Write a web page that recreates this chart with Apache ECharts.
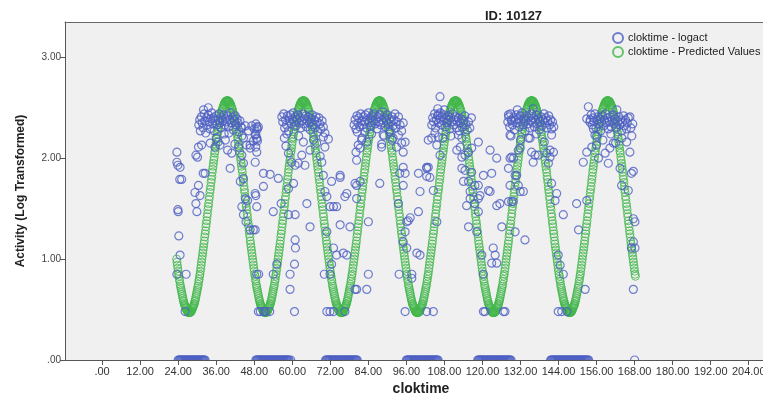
<!DOCTYPE html>
<html>
<head>
<meta charset="utf-8">
<title>ID: 10127</title>
<script src="https://cdn.jsdelivr.net/npm/echarts@6/dist/echarts.min.js"></script>
<style>
  html, body { margin: 0; padding: 0; background: #fff; }
  #chart { width: 763px; height: 401px; }
</style>
</head>
<body>
<div id="chart"></div>
<script>
// tick labels
var xTicks = [0, 12, 24, 36, 48, 60, 72, 84, 96, 108, 120, 132, 144, 156, 168, 180, 192, 204];
var yTicks = [0, 1, 2, 3];

// predicted values (cosinor fit), one every 7.5 min starting at 23.5 h
var predStart = 23.5;
var predStep = 0.125;
var predValues = [
  1.00,0.97,0.94,0.91,0.88,0.85,0.83,0.80,
  0.78,0.75,0.73,0.71,0.69,0.67,0.65,0.63,0.61,0.59,0.58,0.56,0.55,0.54,0.53,0.52,0.51,0.50,0.49,0.48,0.48,0.48,0.47,0.47,
  // day 1
  0.47,0.47,0.47,0.48,0.48,0.48,0.49,0.50,0.51,0.52,0.53,0.54,0.55,0.56,0.58,0.59,0.61,0.63,0.65,0.67,0.69,0.71,0.73,0.75,
  0.78,0.80,0.83,0.85,0.88,0.91,0.94,0.97,1.00,1.03,1.06,1.09,1.12,1.15,1.18,1.22,1.25,1.28,1.32,1.35,1.38,1.42,1.45,1.49,
  1.52,1.55,1.59,1.62,1.66,1.69,1.72,1.76,1.79,1.82,1.86,1.89,1.92,1.95,1.98,2.01,2.05,2.07,2.10,2.13,2.16,2.19,2.21,2.24,
  2.26,2.29,2.31,2.33,2.35,2.37,2.39,2.41,2.43,2.45,2.46,2.48,2.49,2.50,2.51,2.53,2.53,2.54,2.55,2.56,2.56,2.56,2.57,2.57,
  2.57,2.57,2.57,2.56,2.56,2.56,2.55,2.54,2.53,2.53,2.51,2.50,2.49,2.48,2.46,2.45,2.43,2.41,2.39,2.37,2.35,2.33,2.31,2.29,
  2.26,2.24,2.21,2.19,2.16,2.13,2.10,2.07,2.05,2.01,1.98,1.95,1.92,1.89,1.86,1.82,1.79,1.76,1.72,1.69,1.66,1.62,1.59,1.55,
  1.52,1.49,1.45,1.42,1.38,1.35,1.32,1.28,1.25,1.22,1.18,1.15,1.12,1.09,1.06,1.03,1.00,0.97,0.94,0.91,0.88,0.85,0.83,0.80,
  0.78,0.75,0.73,0.71,0.69,0.67,0.65,0.63,0.61,0.59,0.58,0.56,0.55,0.54,0.53,0.52,0.51,0.50,0.49,0.48,0.48,0.48,0.47,0.47,
  // day 2
  0.47,0.47,0.47,0.48,0.48,0.48,0.49,0.50,0.51,0.52,0.53,0.54,0.55,0.56,0.58,0.59,0.61,0.63,0.65,0.67,0.69,0.71,0.73,0.75,
  0.78,0.80,0.83,0.85,0.88,0.91,0.94,0.97,1.00,1.03,1.06,1.09,1.12,1.15,1.18,1.22,1.25,1.28,1.32,1.35,1.38,1.42,1.45,1.49,
  1.52,1.55,1.59,1.62,1.66,1.69,1.72,1.76,1.79,1.82,1.86,1.89,1.92,1.95,1.98,2.01,2.05,2.07,2.10,2.13,2.16,2.19,2.21,2.24,
  2.26,2.29,2.31,2.33,2.35,2.37,2.39,2.41,2.43,2.45,2.46,2.48,2.49,2.50,2.51,2.53,2.53,2.54,2.55,2.56,2.56,2.56,2.57,2.57,
  2.57,2.57,2.57,2.56,2.56,2.56,2.55,2.54,2.53,2.53,2.51,2.50,2.49,2.48,2.46,2.45,2.43,2.41,2.39,2.37,2.35,2.33,2.31,2.29,
  2.26,2.24,2.21,2.19,2.16,2.13,2.10,2.07,2.05,2.01,1.98,1.95,1.92,1.89,1.86,1.82,1.79,1.76,1.72,1.69,1.66,1.62,1.59,1.55,
  1.52,1.49,1.45,1.42,1.38,1.35,1.32,1.28,1.25,1.22,1.18,1.15,1.12,1.09,1.06,1.03,1.00,0.97,0.94,0.91,0.88,0.85,0.83,0.80,
  0.78,0.75,0.73,0.71,0.69,0.67,0.65,0.63,0.61,0.59,0.58,0.56,0.55,0.54,0.53,0.52,0.51,0.50,0.49,0.48,0.48,0.48,0.47,0.47,
  // day 3
  0.47,0.47,0.47,0.48,0.48,0.48,0.49,0.50,0.51,0.52,0.53,0.54,0.55,0.56,0.58,0.59,0.61,0.63,0.65,0.67,0.69,0.71,0.73,0.75,
  0.78,0.80,0.83,0.85,0.88,0.91,0.94,0.97,1.00,1.03,1.06,1.09,1.12,1.15,1.18,1.22,1.25,1.28,1.32,1.35,1.38,1.42,1.45,1.49,
  1.52,1.55,1.59,1.62,1.66,1.69,1.72,1.76,1.79,1.82,1.86,1.89,1.92,1.95,1.98,2.01,2.05,2.07,2.10,2.13,2.16,2.19,2.21,2.24,
  2.26,2.29,2.31,2.33,2.35,2.37,2.39,2.41,2.43,2.45,2.46,2.48,2.49,2.50,2.51,2.53,2.53,2.54,2.55,2.56,2.56,2.56,2.57,2.57,
  2.57,2.57,2.57,2.56,2.56,2.56,2.55,2.54,2.53,2.53,2.51,2.50,2.49,2.48,2.46,2.45,2.43,2.41,2.39,2.37,2.35,2.33,2.31,2.29,
  2.26,2.24,2.21,2.19,2.16,2.13,2.10,2.07,2.05,2.01,1.98,1.95,1.92,1.89,1.86,1.82,1.79,1.76,1.72,1.69,1.66,1.62,1.59,1.55,
  1.52,1.49,1.45,1.42,1.38,1.35,1.32,1.28,1.25,1.22,1.18,1.15,1.12,1.09,1.06,1.03,1.00,0.97,0.94,0.91,0.88,0.85,0.83,0.80,
  0.78,0.75,0.73,0.71,0.69,0.67,0.65,0.63,0.61,0.59,0.58,0.56,0.55,0.54,0.53,0.52,0.51,0.50,0.49,0.48,0.48,0.48,0.47,0.47,
  // day 4
  0.47,0.47,0.47,0.48,0.48,0.48,0.49,0.50,0.51,0.52,0.53,0.54,0.55,0.56,0.58,0.59,0.61,0.63,0.65,0.67,0.69,0.71,0.73,0.75,
  0.78,0.80,0.83,0.85,0.88,0.91,0.94,0.97,1.00,1.03,1.06,1.09,1.12,1.15,1.18,1.22,1.25,1.28,1.32,1.35,1.38,1.42,1.45,1.49,
  1.52,1.55,1.59,1.62,1.66,1.69,1.72,1.76,1.79,1.82,1.86,1.89,1.92,1.95,1.98,2.01,2.05,2.07,2.10,2.13,2.16,2.19,2.21,2.24,
  2.26,2.29,2.31,2.33,2.35,2.37,2.39,2.41,2.43,2.45,2.46,2.48,2.49,2.50,2.51,2.53,2.53,2.54,2.55,2.56,2.56,2.56,2.57,2.57,
  2.57,2.57,2.57,2.56,2.56,2.56,2.55,2.54,2.53,2.53,2.51,2.50,2.49,2.48,2.46,2.45,2.43,2.41,2.39,2.37,2.35,2.33,2.31,2.29,
  2.26,2.24,2.21,2.19,2.16,2.13,2.10,2.07,2.05,2.01,1.98,1.95,1.92,1.89,1.86,1.82,1.79,1.76,1.72,1.69,1.66,1.62,1.59,1.55,
  1.52,1.49,1.45,1.42,1.38,1.35,1.32,1.28,1.25,1.22,1.18,1.15,1.12,1.09,1.06,1.03,1.00,0.97,0.94,0.91,0.88,0.85,0.83,0.80,
  0.78,0.75,0.73,0.71,0.69,0.67,0.65,0.63,0.61,0.59,0.58,0.56,0.55,0.54,0.53,0.52,0.51,0.50,0.49,0.48,0.48,0.48,0.47,0.47,
  // day 5
  0.47,0.47,0.47,0.48,0.48,0.48,0.49,0.50,0.51,0.52,0.53,0.54,0.55,0.56,0.58,0.59,0.61,0.63,0.65,0.67,0.69,0.71,0.73,0.75,
  0.78,0.80,0.83,0.85,0.88,0.91,0.94,0.97,1.00,1.03,1.06,1.09,1.12,1.15,1.18,1.22,1.25,1.28,1.32,1.35,1.38,1.42,1.45,1.49,
  1.52,1.55,1.59,1.62,1.66,1.69,1.72,1.76,1.79,1.82,1.86,1.89,1.92,1.95,1.98,2.01,2.05,2.07,2.10,2.13,2.16,2.19,2.21,2.24,
  2.26,2.29,2.31,2.33,2.35,2.37,2.39,2.41,2.43,2.45,2.46,2.48,2.49,2.50,2.51,2.53,2.53,2.54,2.55,2.56,2.56,2.56,2.57,2.57,
  2.57,2.57,2.57,2.56,2.56,2.56,2.55,2.54,2.53,2.53,2.51,2.50,2.49,2.48,2.46,2.45,2.43,2.41,2.39,2.37,2.35,2.33,2.31,2.29,
  2.26,2.24,2.21,2.19,2.16,2.13,2.10,2.07,2.05,2.01,1.98,1.95,1.92,1.89,1.86,1.82,1.79,1.76,1.72,1.69,1.66,1.62,1.59,1.55,
  1.52,1.49,1.45,1.42,1.38,1.35,1.32,1.28,1.25,1.22,1.18,1.15,1.12,1.09,1.06,1.03,1.00,0.97,0.94,0.91,0.88,0.85,0.83,0.80,
  0.78,0.75,0.73,0.71,0.69,0.67,0.65,0.63,0.61,0.59,0.58,0.56,0.55,0.54,0.53,0.52,0.51,0.50,0.49,0.48,0.48,0.48,0.47,0.47,
  // day 6
  0.47,0.47,0.47,0.48,0.48,0.48,0.49,0.50,0.51,0.52,0.53,0.54,0.55,0.56,0.58,0.59,0.61,0.63,0.65,0.67,0.69,0.71,0.73,0.75,
  0.78,0.80,0.83,0.85,0.88,0.91,0.94,0.97,1.00,1.03,1.06,1.09,1.12,1.15,1.18,1.22,1.25,1.28,1.32,1.35,1.38,1.42,1.45,1.49,
  1.52,1.55,1.59,1.62,1.66,1.69,1.72,1.76,1.79,1.82,1.86,1.89,1.92,1.95,1.98,2.01,2.05,2.07,2.10,2.13,2.16,2.19,2.21,2.24,
  2.26,2.29,2.31,2.33,2.35,2.37,2.39,2.41,2.43,2.45,2.46,2.48,2.49,2.50,2.51,2.53,2.53,2.54,2.55,2.56,2.56,2.56,2.57,2.57,
  2.57,2.57,2.57,2.56,2.56,2.56,2.55,2.54,2.53,2.53,2.51,2.50,2.49,2.48,2.46,2.45,2.43,2.41,2.39,2.37,2.35,2.33,2.31,2.29,
  2.26,2.24,2.21,2.19,2.16,2.13,2.10,2.07,2.05,2.01,1.98,1.95,1.92,1.89,1.86,1.82,1.79,1.76,1.72,1.69,1.66,1.62,1.59,1.55,
  1.52,1.49,1.45,1.42,1.38,1.35,1.32,1.28,1.25,1.22,1.18,1.15,1.12,1.09,1.06,1.03,1.00,0.97,0.94,0.91,0.88,0.85,0.83
];

// logact = 0 during the nights (hours)
var zeroNight1 = [24,24.25,24.5,24.75,25,25.25,25.5,25.75,26,26.25,26.5,26.75,27,27.25,27.5,27.75,28,28.25,28.5,28.75,29,29.25,29.5,29.75,
  30,30.25,30.5,30.75,31,31.25,31.5,31.75,32,32.25,32.5];
var zeroNight2 = [48.5,48.75,49,49.25,49.5,49.75,50,50.25,50.5,50.75,51,51.25,51.5,51.75,52,52.25,52.5,52.75,53,53.25,53.5,53.75,54,54.25,
  54.5,54.75,55,55.25,55.5,55.75,56,56.25,56.5,56.75,57,57.25,57.5,57.75,58,58.25,58.5,58.75,59,59.5];
var zeroNight3 = [70.5,70.75,71,71.25,71.5,71.75,72,72.25,72.5,72.75,73,73.25,73.5,73.75,74,74.25,74.5,74.75,75,75.25,75.5,75.75,76,76.25,
  76.5,76.75,77,77.25,77.5,77.75,78,78.25,78.5,78.75,79,79.25,79.5,79.75,80,80.25,80.5];
var zeroNight4 = [96,96.25,96.5,96.75,97,97.25,97.5,97.75,98,98.25,98.5,98.75,99,99.25,99.5,99.75,100,100.25,100.5,100.75,101,101.25,101.5,
  101.75,102,102.25,102.5,102.75,103,103.25,103.5,103.75,104,104.25,104.5,104.75,105,105.25,105.5,105.75,106];
var zeroNight5 = [118.5,118.75,119,119.25,119.5,119.75,120,120.25,120.5,120.75,121,121.25,121.5,121.75,122,122.25,122.5,122.75,123,123.25,
  123.5,123.75,124,124.25,124.5,124.75,125,125.25,125.5,125.75,126,126.25,126.5,126.75,127,127.25,127.5,127.75,128,128.25,128.5,128.75,129];
var zeroNight6 = [141.5,141.75,142,142.25,142.5,142.75,143,143.25,143.5,143.75,144,144.25,144.5,144.75,145,145.25,145.5,145.75,146,146.25,
  146.5,146.75,147,147.25,147.5,147.75,148,148.25,148.5,148.75,149,149.25,149.5,149.75,150,150.25,150.5,150.75,151,151.25,151.5,151.75,
  152,152.25,152.5,152.75,153,153.25,153.5,168];

// logact > 0, [hour, value]
var logactDay1 = [
  [23.6,2.06],[23.6,1.96],[23.9,1.93],[24.6,1.91],[24.5,1.79],[25.1,1.79],[23.9,1.49],[24.0,1.47],[24.2,1.23],[24.6,1.04],[23.6,0.85],[26.5,0.85],[26.2,0.48],
  [29.6,2.03],[30.1,2.01],[30.4,2.11],[31.4,2.13],[31.9,1.85],[32.5,1.85],[30.4,1.73],[29.3,1.66],[30.9,1.63],[29.6,1.55],[29.9,1.47],[33.5,2.50],
  [30.5,2.33],[30.8,2.38],[31.0,2.27],[31.3,2.41],[31.6,2.35],[31.9,2.30],[32.2,2.44],[32.4,2.37],[32.7,2.25],[33.0,2.40],[33.2,2.33],[33.5,2.43],
  [33.8,2.36],[34.0,2.29],[34.3,2.39],[34.6,2.45],[34.9,2.34],[35.1,2.40],[35.4,2.27],[35.7,2.37],[36.0,2.42],[36.3,2.33],[36.6,2.38],[36.9,2.44],
  [37.2,2.35],[37.5,2.30],[37.8,2.40],[38.1,2.37],[38.4,2.43],[38.7,2.33],[39.0,2.39],[39.3,2.36],[39.6,2.42],[39.9,2.31],[40.2,2.38],[40.5,2.45],
  [40.8,2.35],[41.1,2.40],[41.4,2.28],[41.7,2.37],[42.0,2.42],[42.3,2.33],[42.6,2.39],[42.9,2.35],[43.2,2.26],[43.5,2.37],[43.8,2.31],[44.1,2.22],
  [32.0,2.48],[36.0,2.20],[38.5,2.24],[40.0,2.25],[36.6,2.16],[38.9,2.18],[39.6,2.08],[41.9,2.14],
  [34.1,2.15],[35.6,2.11],[37.2,2.13],[40.4,1.90],[40.9,2.05],[43.0,2.11],[44.1,2.03],[44.6,1.95],[45.6,2.13],[46.7,2.10],[48.3,2.23],[48.8,2.06],[49.3,2.31],
  [44.1,2.30],[45.2,2.32],[46.2,2.27],[47.2,2.32],[48.0,2.29],[48.8,2.20],[47.7,2.17],[46.7,2.13],[44.6,2.20],
  [43.6,1.77],[44.6,1.80],[45.2,1.60],[45.9,1.58],[44.1,1.52],[44.6,1.44],[45.4,1.37],[46.7,1.29],[47.7,1.29],[48.8,0.85],[49.3,0.48],[48.3,1.65],
  [48.5,2.34],[48.8,2.31],[49.0,2.29],[48.5,2.24],[48.8,2.19],[49.0,2.17],[48.5,2.11],[48.3,1.96],[48.5,1.63],[48.8,1.52],[48.3,1.29]
];
var logactDay2 = [
  [50.9,1.85],[53.0,1.84],[50.9,1.72],[55.6,1.80],[54.0,1.47],[56.5,1.55],[49.4,0.85],[49.9,0.48],[51.0,0.48],[51.5,0.48],[52.9,0.48],[54.0,0.85],[55.1,0.95],
  [59.3,0.85],[59.3,0.70],[60.7,0.95],[60.9,1.19],[61.0,1.11],[60.7,0.48],[58.8,1.44],[60.9,1.44],[58.8,1.70],[60.4,1.75],[58.8,2.05],[59.8,1.96],[60.9,1.93],
  [64.6,1.55],[65.6,1.32],[61.9,1.95],[63.0,2.03],[64.0,1.93],[65.6,2.08],[66.7,2.18],[67.7,2.15],[68.8,2.02],[69.3,1.96],[69.8,2.21],[70.3,2.11],[71.4,2.19],
  [56.7,2.41],[57.0,2.36],[57.3,2.44],[57.6,2.30],[57.9,2.38],[58.2,2.33],[58.5,2.42],[58.8,2.27],[59.1,2.37],[59.4,2.43],[59.7,2.34],[60.0,2.39],
  [60.3,2.45],[60.6,2.36],[60.9,2.41],[61.2,2.32],[61.5,2.38],[61.8,2.43],[62.1,2.35],[62.4,2.40],[62.7,2.30],[63.0,2.37],[63.3,2.44],[63.6,2.34],
  [63.9,2.39],[64.2,2.42],[64.5,2.31],[64.8,2.37],[65.1,2.41],[65.4,2.35],[65.7,2.28],[66.0,2.39],[66.3,2.43],[66.6,2.33],[66.9,2.38],[67.2,2.30],
  [67.5,2.41],[67.8,2.36],[68.1,2.26],[68.4,2.40],[68.7,2.34],[69.0,2.29],[69.4,2.37],[69.8,2.31],[70.3,2.25],[57.5,2.20],[58.0,2.12],[58.3,2.24],[62.0,2.22],[63.5,2.16],
  [69.8,1.83],[70.3,1.67],[70.9,1.62],[71.9,1.52],[73.0,1.52],[74.0,1.52],[70.9,1.27],[73.0,1.11],[74.0,1.04],[72.4,0.95],[71.9,0.85],[70.1,0.85],
  [70.9,0.48],[71.9,0.48],[73.0,0.48],[72.4,1.77],[75.1,1.81],[76.6,1.62]
];
var logactDay3 = [
  [75.1,1.83],[75.1,1.34],[76.1,1.06],[77.2,1.04],[76.6,0.48],[77.2,1.65],[78.2,1.32],[80.3,1.73],[79.8,1.75],[80.3,1.60],[81.4,1.77],[79.8,0.70],[80.3,0.70],
  [83.5,0.70],[84.0,0.85],[84.0,1.37],[80.1,2.06],[80.3,1.98],[80.8,2.13],[81.4,2.10],[81.9,2.18],[82.9,2.26],[83.5,2.16],[87.6,1.75],[88.2,2.14],[88.2,2.11],
  [88.7,2.23],[90.8,2.26],[91.8,2.20],[92.9,2.11],[94.5,2.15],[95.6,2.16],[95.0,2.06],[93.5,1.55],[93.9,1.85],[95.0,1.91],[95.6,1.85],[95.0,1.73],[95.6,1.27],
  [95.0,1.17],[96.1,1.11],[96.6,1.38],[97.2,1.41],[96.1,1.37],[97.7,0.85],[97.7,0.81],[93.7,0.85],[95.6,0.48],[102.4,0.48],[99.8,1.85],[100.3,1.67],[99.8,1.47],
  [100.3,1.04],[102.4,1.91],[103.4,1.81],[102.9,1.91],[99.3,1.06],[102.9,2.18],
  [79.5,2.33],[79.8,2.38],[80.1,2.29],[80.4,2.42],[80.7,2.35],[81.0,2.40],[81.3,2.31],[81.6,2.44],[81.9,2.37],[82.2,2.33],[82.5,2.41],[82.8,2.36],
  [83.1,2.43],[83.4,2.30],[83.7,2.38],[84.0,2.45],[84.3,2.35],[84.6,2.40],[84.9,2.32],[85.2,2.42],[85.5,2.37],[85.8,2.44],[86.1,2.34],[86.4,2.39],
  [86.7,2.29],[87.0,2.41],[87.3,2.36],[87.6,2.43],[87.9,2.33],[88.2,2.38],[88.5,2.46],[88.8,2.35],[89.1,2.40],[89.4,2.31],[89.7,2.37],[90.0,2.43],
  [90.3,2.34],[90.6,2.39],[90.9,2.28],[91.2,2.36],[91.5,2.41],[91.8,2.32],[92.1,2.38],[92.4,2.44],[92.7,2.30],[93.0,2.36],[93.5,2.41],[94.0,2.33],
  [94.5,2.27],[95.0,2.35],[80.5,2.26],[82.0,2.20],[85.0,2.24],[89.0,2.22],[91.5,2.18],[93.5,2.23]
];
var logactDay4 = [
  [106.6,2.61],[105.9,2.49],[106.1,2.43],[102.4,1.90],[102.4,1.82],[104.5,1.68],[105.6,1.37],[104.0,2.20],[106.1,2.21],[105.6,2.13],[106.6,2.03],[104.5,0.48],
  [112.4,2.23],[113.5,2.20],[113.0,2.11],[111.9,2.08],[114.5,2.03],[115.6,2.06],[113.5,2.01],[116.6,2.10],[118.7,2.16],[122.4,2.08],[124.5,2.00],[113.5,1.90],
  [114.5,1.88],[116.6,1.86],[114.0,1.77],[115.6,1.77],[117.6,1.73],[116.1,1.67],[118.7,1.73],[120.3,1.83],[122.9,1.85],[122.4,1.67],[121.9,1.68],[116.1,1.60],
  [118.7,1.60],[115.0,1.53],[117.6,1.55],[119.2,1.63],[125.5,1.55],[124.5,1.53],[118.7,1.47],[115.6,1.32],[118.2,1.27],[126.1,1.32],[123.4,1.11],[124.0,1.04],
  [122.9,0.96],[124.5,0.96],[120.3,0.85],[119.8,1.04],[120.3,0.48],[120.8,0.48],[126.6,0.48],[127.1,0.48],
  [104.0,2.33],[104.3,2.40],[104.6,2.36],[104.9,2.44],[105.2,2.30],[105.5,2.38],[105.8,2.42],[106.1,2.35],[106.4,2.39],[106.7,2.45],[107.0,2.33],[107.3,2.41],
  [107.6,2.37],[107.9,2.43],[108.2,2.31],[108.5,2.39],[108.8,2.35],[109.1,2.42],[109.4,2.38],[109.7,2.29],[110.0,2.40],[110.3,2.36],[110.6,2.44],[110.9,2.33],
  [111.2,2.38],[111.5,2.41],[111.8,2.30],[112.1,2.36],[112.4,2.40],[112.7,2.27],[113.0,2.35],[113.3,2.39],[113.6,2.31],[114.0,2.37],[114.4,2.42],[114.8,2.33],
  [115.2,2.28],[115.6,2.36],[116.0,2.30],[116.5,2.40],[105.0,2.25],[107.5,2.20],[110.0,2.22],[108.0,2.48]
];
var logactDay5 = [
  [128.2,2.43],[129.2,2.38],[128.7,2.23],[129.2,2.01],[128.2,1.90],[128.7,2.00],[129.7,1.57],[128.2,1.57],
  [129.8,2.00],[130.3,1.83],[128.7,1.73],[129.2,1.57],[130.3,1.27],[133.4,1.19],[130.8,1.83],[131.3,1.73],[131.9,1.67],[132.9,1.67],[135.0,2.20],[135.5,2.06],
  [136.0,1.96],[136.6,2.03],[137.6,2.03],[131.3,2.08],[131.9,2.10],[140.3,2.05],[141.3,2.01],[141.8,2.23],[142.4,2.06],[141.3,2.08],[140.8,1.95],[141.8,1.75],
  [143.4,1.65],[142.9,1.58],[145.5,1.44],[149.7,1.55],[150.3,1.29],[152.9,1.58],[143.9,1.04],[144.5,0.94],[145.5,0.85],[143.9,0.48],[145.0,0.48],[146.6,0.48],
  [152.4,0.70],[153.4,2.51],[152.9,2.39],[152.9,2.06],[151.8,1.96],
  [128.0,2.36],[128.3,2.41],[128.6,2.31],[128.9,2.44],[129.2,2.37],[129.5,2.33],[129.8,2.40],[130.1,2.28],[130.4,2.38],[130.7,2.43],[131.0,2.35],[131.3,2.39],
  [131.6,2.31],[131.9,2.42],[132.2,2.36],[132.5,2.45],[132.8,2.33],[133.1,2.39],[133.4,2.27],[133.7,2.37],[134.0,2.42],[134.3,2.34],[134.6,2.40],[134.9,2.30],
  [135.2,2.37],[135.5,2.44],[135.8,2.35],[136.1,2.40],[136.4,2.31],[136.7,2.38],[137.0,2.43],[137.3,2.34],[137.6,2.39],[137.9,2.28],[138.2,2.36],[138.5,2.41],
  [138.8,2.32],[139.1,2.38],[139.4,2.44],[139.7,2.35],[140.0,2.40],[140.3,2.30],[140.6,2.37],[140.9,2.42],[141.2,2.33],[141.5,2.38],[141.8,2.29],[142.1,2.36],
  [142.5,2.31],[129.0,2.22],[132.0,2.18],[134.5,2.20],[137.0,2.24],[139.5,2.16],[131.0,2.48],[136.0,2.49]
];
var logactDay6 = [
  [153.9,2.36],[155.0,2.29],[155.5,2.23],[156.0,2.13],[156.6,2.00],[154.5,2.11],
  [159.7,1.95],[158.7,2.05],[160.2,2.10],[161.3,2.15],[163.4,1.90],[163.9,1.73],[166.0,1.68],[167.0,1.85],[167.6,1.87],[166.5,2.06],[167.6,1.40],[168.1,1.37],
  [167.0,1.11],[168.1,1.11],[167.6,1.17],[167.6,0.70],
  [154.0,2.38],[154.3,2.43],[154.6,2.33],[154.9,2.40],[155.2,2.36],[155.5,2.44],[155.8,2.30],[156.1,2.38],[156.4,2.41],[156.7,2.34],[157.0,2.39],[157.3,2.27],
  [157.6,2.36],[157.9,2.42],[158.2,2.32],[158.5,2.38],[158.8,2.44],[159.1,2.35],[159.4,2.40],[159.7,2.29],[160.0,2.36],[160.3,2.41],[160.6,2.31],[160.9,2.37],
  [161.2,2.43],[161.5,2.34],[161.8,2.39],[162.1,2.30],[162.4,2.48],[162.7,2.36],[163.0,2.41],[163.3,2.33],[163.6,2.38],[163.9,2.27],[164.2,2.36],[164.5,2.42],
  [164.8,2.32],[165.1,2.38],[165.4,2.29],[165.7,2.35],[166.0,2.40],[166.5,2.41],[166.8,2.30],[167.1,2.22],[167.4,2.34],[156.0,2.22],[158.0,2.18],[160.5,2.24],
  [162.0,2.15],[164.0,2.20],[165.5,2.16]
];

var blue = '#4d5fc3';
var green = '#41b64a';
var axisColor = '#555';
var font = 'Liberation Sans, Arial, sans-serif';

function fmt(v) {
    var s = v.toFixed(2);
    return s.charAt(0) === '0' ? s.slice(1) : s;
}

var predData = predValues.map(function (v, i) { return [predStart + i * predStep, v]; });
var zeros = [].concat(zeroNight1, zeroNight2, zeroNight3, zeroNight4, zeroNight5, zeroNight6);
var actData = zeros.map(function (t) { return [t, 0]; })
    .concat(logactDay1, logactDay2, logactDay3, logactDay4, logactDay5, logactDay6);

var myChart = echarts.init(document.getElementById('chart'));
myChart.setOption({
    animation: false,
    title: {
        text: 'ID: 10127',
        left: 480, top: 5,
        textStyle: { fontFamily: font, fontSize: 13, fontWeight: 'bold', color: '#222' }
    },
    legend: {
        orient: 'vertical',
        left: 607, top: 27,
        itemGap: 2, itemWidth: 10, itemHeight: 10,
        textStyle: { fontFamily: font, fontSize: 11, color: '#222' },
        data: ['cloktime - logact', 'cloktime - Predicted Values']
    },
    grid: {
        left: 65, right: 0, top: 22, bottom: 41,
        outerBoundsMode: 'none',
        show: true, backgroundColor: '#f0f0f0', borderWidth: 0
    },
    // white strip under the x axis line: points at 0 show only their upper half
    graphic: [{
        type: 'rect', left: 66, top: 361, z: 5, silent: true,
        shape: { width: 697, height: 7 },
        style: { fill: '#fff' }
    }],
    xAxis: [{
        type: 'value', min: -11.7, max: 208.5, z: 10,
        name: 'cloktime', nameLocation: 'middle', nameGap: 21,
        nameTextStyle: { fontFamily: font, fontSize: 14, fontWeight: 'bold', color: '#222', padding: [0, 0, 0, 14] },
        axisLine: { onZero: false, lineStyle: { color: axisColor } },
        axisTick: { customValues: xTicks, length: 5, lineStyle: { color: axisColor } },
        axisLabel: { customValues: xTicks, formatter: fmt, margin: 6, fontFamily: font, fontSize: 11, color: '#333' },
        splitLine: { show: false }
    }, {
        // top frame line only
        type: 'value', position: 'top', min: -11.7, max: 208.5, z: 10,
        axisLine: { show: true, onZero: false, lineStyle: { color: '#666' } },
        axisTick: { show: false },
        axisLabel: { show: false },
        splitLine: { show: false }
    }],
    yAxis: {
        type: 'value', min: 0, max: 3.35, z: 10,
        name: 'Activity (Log Transformed)', nameLocation: 'middle', nameGap: 38,
        nameTextStyle: { fontFamily: font, fontSize: 12, fontWeight: 'bold', color: '#222' },
        axisLine: { show: true, onZero: false, lineStyle: { color: axisColor } },
        axisTick: { show: true, customValues: yTicks, length: 5, lineStyle: { color: axisColor } },
        axisLabel: { customValues: yTicks, formatter: fmt, margin: 4, fontFamily: font, fontSize: 10, color: '#444' },
        splitLine: { show: false }
    },
    series: [
        {
            name: 'cloktime - Predicted Values',
            type: 'scatter',
            symbol: 'circle',
            symbolSize: 8,
            itemStyle: { color: 'rgba(0,0,0,0)', borderColor: green, borderWidth: 1 },
            data: predData,
            z: 2
        },
        {
            name: 'cloktime - logact',
            type: 'scatter',
            symbol: 'circle',
            symbolSize: 8,
            itemStyle: { color: 'rgba(0,0,0,0)', borderColor: blue, borderWidth: 1.2 },
            data: actData,
            z: 3
        }
    ]
});
</script>
</body>
</html>
